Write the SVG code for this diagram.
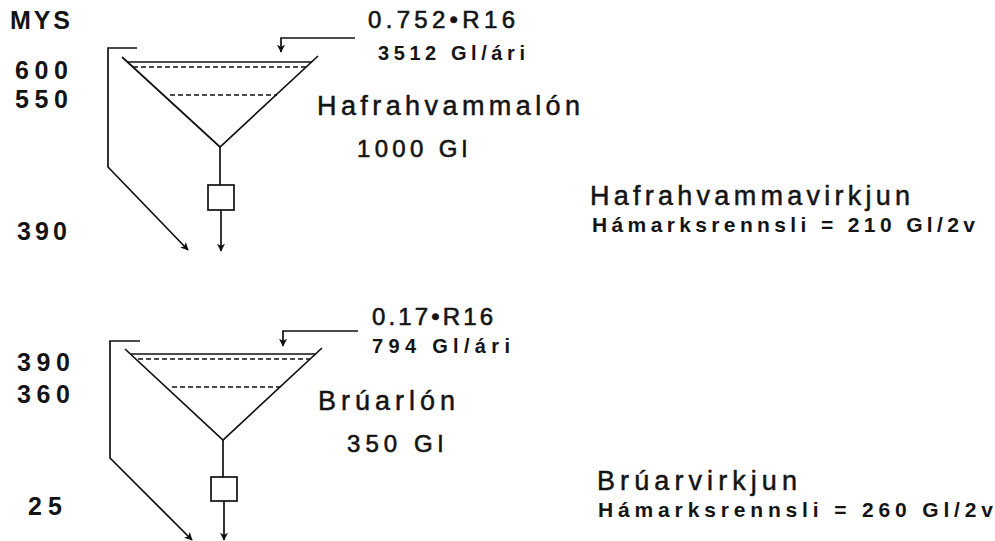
<svg xmlns="http://www.w3.org/2000/svg" width="995" height="541" viewBox="0 0 995 541">
  <style>
    .ln { fill: none; stroke: #111; stroke-width: 1.7; }
    .dash { fill: none; stroke: #111; stroke-width: 1.3; stroke-dasharray: 5 3; }
    .box { fill: #fff; stroke: #111; stroke-width: 1.7; }
    text { font-family: "Liberation Sans", Arial, sans-serif; fill: #141414; }
    .lvl { font-size: 25px; font-weight: bold; }
    .big { font-size: 27px; stroke: #141414; stroke-width: 0.5; }
    .mid { font-size: 24px; stroke: #141414; stroke-width: 0.6; }
    .sm { font-size: 20px; font-weight: bold; }
    .cap { font-size: 21px; font-weight: bold; }
  </style>
  <defs>
    <marker id="arr" viewBox="0 0 10 10" refX="9" refY="5" markerWidth="8" markerHeight="8" markerUnits="userSpaceOnUse" orient="auto">
      <path d="M0,0 L10,5 L0,10 L2.5,5 z" fill="#111"/>
    </marker>
  </defs>
  <rect width="995" height="541" fill="#fff"/>

  <!-- elevation scale -->
  <g id="scale">
    <text class="lvl" x="10" y="29" textLength="60" lengthAdjust="spacing">MYS</text>
    <text class="lvl" x="15" y="79" textLength="53" lengthAdjust="spacing">600</text>
    <text class="lvl" x="15" y="108" textLength="53" lengthAdjust="spacing">550</text>
    <text class="lvl" x="17" y="240" textLength="50" lengthAdjust="spacing">390</text>
    <text class="lvl" x="17" y="371" textLength="53" lengthAdjust="spacing">390</text>
    <text class="lvl" x="17" y="403" textLength="53" lengthAdjust="spacing">360</text>
    <text class="lvl" x="28" y="515" textLength="34" lengthAdjust="spacing">25</text>
  </g>

  <!-- upper reservoir -->
  <g id="hafrahvammalon">
    <polyline class="ln" points="122,57 220,147 318,56"/>
    <line class="ln" x1="127" y1="62" x2="312" y2="62"/>
    <line class="dash" x1="133" y1="67" x2="307" y2="67"/>
    <line class="dash" x1="170" y1="95" x2="277" y2="95"/>
    <text class="big" x="317" y="115" textLength="263" lengthAdjust="spacing">Hafrahvammalón</text>
    <text class="mid" x="357" y="157" textLength="110" lengthAdjust="spacing">1000 Gl</text>
  </g>
  <g id="inflow-upper">
    <text class="mid" x="368" y="28" textLength="147" lengthAdjust="spacing">0.752•R16</text>
    <text class="sm" x="378" y="60" textLength="147" lengthAdjust="spacing">3512 Gl/ári</text>
  </g>
  <g id="hafrahvammavirkjun">
    <rect class="box" x="208" y="185" width="26" height="25"/>
    <text class="big" x="590" y="205" textLength="320" lengthAdjust="spacing">Hafrahvammavirkjun</text>
    <text class="cap" x="592" y="232" textLength="383" lengthAdjust="spacing">Hámarksrennsli = 210 Gl/2v</text>
  </g>

  <!-- lower reservoir -->
  <g id="bruarlon">
    <polyline class="ln" points="125,349 223,440 322,348"/>
    <line class="ln" x1="131" y1="354" x2="316" y2="354"/>
    <line class="dash" x1="138" y1="359" x2="310" y2="359"/>
    <line class="dash" x1="172" y1="387" x2="280" y2="387"/>
    <text class="big" x="318" y="410" textLength="137" lengthAdjust="spacing">Brúarlón</text>
    <text class="mid" x="347" y="452" textLength="96" lengthAdjust="spacing">350 Gl</text>
  </g>
  <g id="inflow-lower">
    <text class="mid" x="372" y="325" textLength="121" lengthAdjust="spacing">0.17•R16</text>
    <text class="sm" x="372" y="353" textLength="138" lengthAdjust="spacing">794 Gl/ári</text>
  </g>
  <g id="bruarvirkjun">
    <rect class="box" x="211" y="477" width="26" height="24"/>
    <text class="big" x="597" y="490" textLength="200" lengthAdjust="spacing">Brúarvirkjun</text>
    <text class="cap" x="598" y="517" textLength="395" lengthAdjust="spacing">Hámarksrennsli = 260 Gl/2v</text>
  </g>

  <!-- flows -->
  <g id="connectors">
    <polyline class="ln" points="355,38 281,38 281,52" marker-end="url(#arr)"/>
    <polyline class="ln" points="137,48 108,48 108,167 188,250" marker-end="url(#arr)"/>
    <line class="ln" x1="220" y1="147" x2="220" y2="185"/>
    <line class="ln" x1="221" y1="210" x2="221" y2="251" marker-end="url(#arr)"/>

    <polyline class="ln" points="358,331 283,331 283,346" marker-end="url(#arr)"/>
    <polyline class="ln" points="140,341 110,341 110,458 192,540" marker-end="url(#arr)"/>
    <line class="ln" x1="223" y1="440" x2="223" y2="477"/>
    <line class="ln" x1="224" y1="501" x2="224" y2="540" marker-end="url(#arr)"/>
  </g>
</svg>
